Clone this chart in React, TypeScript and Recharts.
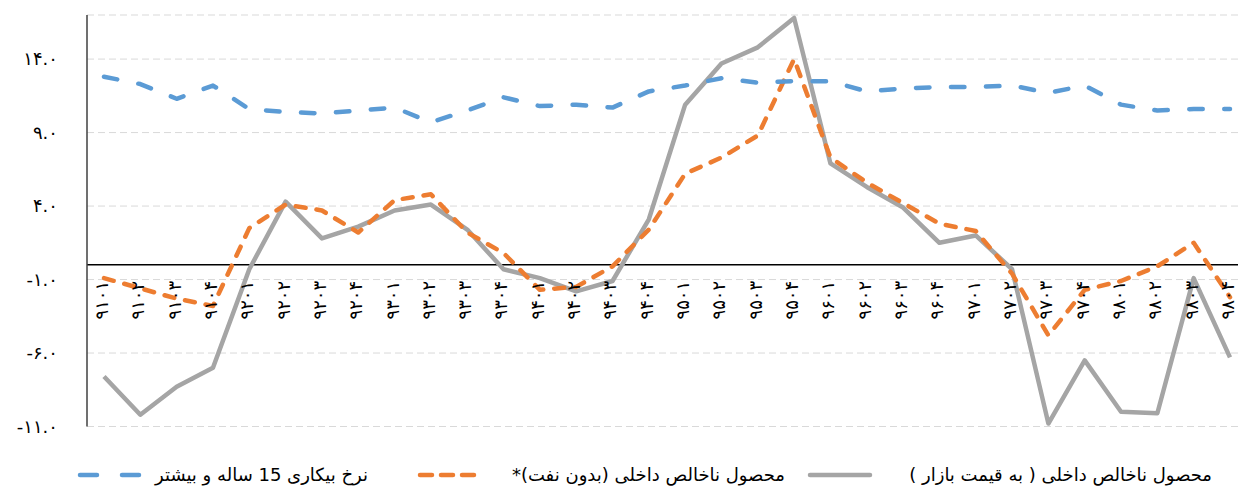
import { LineChart, Line, XAxis, YAxis, CartesianGrid, ReferenceLine } from 'recharts'

const QUARTERS = [
  '۹۱۰۱', '۹۱۰۲', '۹۱۰۳', '۹۱۰۴', '۹۲۰۱', '۹۲۰۲', '۹۲۰۳', '۹۲۰۴',
  '۹۳۰۱', '۹۳۰۲', '۹۳۰۳', '۹۳۰۴', '۹۴۰۱', '۹۴۰۲', '۹۴۰۳', '۹۴۰۴',
  '۹۵۰۱', '۹۵۰۲', '۹۵۰۳', '۹۵۰۴', '۹۶۰۱', '۹۶۰۲', '۹۶۰۳', '۹۶۰۴',
  '۹۷۰۱', '۹۷۰۲', '۹۷۰۳', '۹۷۰۴', '۹۸۰۱', '۹۸۰۲', '۹۸۰۳', '۹۸۰۴',
]

// نرخ بیکاری 15 ساله و بیشتر
const UNEMPLOYMENT = [
  12.8, 12.3, 11.3, 12.2, 10.6, 10.4, 10.3, 10.5, 10.7, 9.7, 10.5, 11.4, 10.8, 10.9, 10.7, 11.8,
  12.2, 12.7, 12.4, 12.5, 12.5, 11.8, 12.0, 12.1, 12.1, 12.2, 11.7, 12.2, 10.9, 10.5, 10.6, 10.6,
]

// محصول ناخالص داخلی (بدون نفت)
const GDP_NON_OIL = [
  -0.9, -1.6, -2.3, -2.8, 2.5, 4.1, 3.7, 2.2, 4.4, 4.8, 2.2, 0.8, -1.7, -1.5, -0.1, 2.4,
  6.2, 7.3, 8.8, 14.0, 7.3, 5.6, 4.2, 2.8, 2.3, -0.6, -4.8, -1.7, -1.1, -0.1, 1.5, -2.2,
]

// محصول ناخالص داخلی (به قیمت بازار)
const GDP_MARKET = [
  -7.6, -10.2, -8.3, -7.0, -0.3, 4.3, 1.8, 2.6, 3.7, 4.1, 2.4, -0.3, -0.9, -1.8, -1.1, 3.1,
  10.9, 13.7, 14.8, 16.8, 6.9, 5.3, 3.9, 1.5, 2.0, -0.3, -10.8, -6.5, -10.0, -10.1, -0.9, -6.3,
]

const Y_TICKS = [-11, -6, -1, 4, 9, 14]
const Y_TICK_LABELS = ['-۱۱.۰', '-۶.۰', '-۱.۰', '۴.۰', '۹.۰', '۱۴.۰']

// legend entries, right to left
const LEGEND = [
  { name: 'محصول ناخالص داخلی ( به قیمت بازار )', color: '#A5A5A5', dash: undefined, textRight: 1212, lineFrom: 808, lineTo: 872 },
  { name: 'محصول ناخالص داخلی (بدون نفت)*', color: '#ED7D31', dash: '12 9', textRight: 785, lineFrom: 418, lineTo: 480 },
  { name: 'نرخ بیکاری 15 ساله و بیشتر', color: '#5B9BD5', dash: '17 25', textRight: 368, lineFrom: 78, lineTo: 141 },
]

const W = 1238
const H = 490
const TOP = 15
const BOTTOM = 63.5
const Y_MIN = -11
const Y_MAX = 17
const PLOT_H = H - TOP - BOTTOM
const ZERO_Y = TOP + (Y_MAX / (Y_MAX - Y_MIN)) * PLOT_H
const LEGEND_Y = 475

const FONT = '"DejaVu Sans", sans-serif'

const data = QUARTERS.map((q, i) => ({
  q,
  market: GDP_MARKET[i],
  nonOil: GDP_NON_OIL[i],
  unemp: UNEMPLOYMENT[i],
}))

function QuarterTick({ x, payload }: any) {
  const ly = ZERO_Y + 16
  const lx = x - 2
  return (
    <text
      x={lx}
      y={ly}
      dy="0.33em"
      transform={`rotate(-90 ${lx} ${ly})`}
      textAnchor="end"
      fontSize={18}
      fontFamily={FONT}
      fill="#000"
    >
      {payload.value}
    </text>
  )
}

function ValueTick({ y, payload }: any) {
  const idx = Y_TICKS.indexOf(payload.value)
  return (
    <text x={58} y={y} dy="0.35em" textAnchor="end" fontSize={18} fontFamily={FONT} fill="#000">
      {Y_TICK_LABELS[idx]}
    </text>
  )
}

export default function App() {
  return (
    <div style={{ position: 'absolute', left: 0, top: 0, width: W, height: H, background: '#fff' }}>
      <LineChart width={W} height={H} data={data} margin={{ top: TOP, right: 0, bottom: BOTTOM - 1, left: 0 }}>
        <CartesianGrid vertical={false} stroke="#D9D9D9" strokeDasharray="7 4" />
        <XAxis
          dataKey="q"
          height={1}
          interval={0}
          axisLine={false}
          tickLine={false}
          padding={{ left: 17, right: 8 }}
          tick={<QuarterTick />}
        />
        <YAxis
          width={87}
          domain={[Y_MIN, Y_MAX]}
          ticks={Y_TICKS}
          allowDataOverflow
          tickLine={false}
          axisLine={{ stroke: '#404040', strokeWidth: 1.5 }}
          tick={<ValueTick />}
        />
        <ReferenceLine y={0} stroke="#000" strokeWidth={1.5} />
        <Line
          dataKey="market"
          stroke="#A5A5A5"
          strokeWidth={4.5}
          strokeLinejoin="round"
          dot={false}
          isAnimationActive={false}
        />
        <Line
          dataKey="nonOil"
          stroke="#ED7D31"
          strokeWidth={4.5}
          strokeDasharray="10 11"
          strokeLinecap="round"
          strokeLinejoin="round"
          dot={false}
          isAnimationActive={false}
        />
        <Line
          dataKey="unemp"
          stroke="#5B9BD5"
          strokeWidth={4.5}
          strokeDasharray="13.5 21.5"
          strokeLinecap="round"
          strokeLinejoin="round"
          dot={false}
          isAnimationActive={false}
        />
      </LineChart>
      <svg width={W} height={30} style={{ position: 'absolute', left: 0, top: LEGEND_Y - 15 }}>
        {LEGEND.map((item) => (
          <g key={item.name}>
            <line
              x1={item.lineFrom + 2}
              y1={15}
              x2={item.lineTo - 2}
              y2={15}
              stroke={item.color}
              strokeWidth={4.5}
              strokeLinecap="round"
              strokeDasharray={item.dash}
            />
            <text
              x={item.textRight}
              y={15}
              dy="0.35em"
              textAnchor="start"
              direction="rtl"
              fontSize={18}
              fontFamily={FONT}
              fill="#000"
            >
              {item.name}
            </text>
          </g>
        ))}
      </svg>
    </div>
  )
}
